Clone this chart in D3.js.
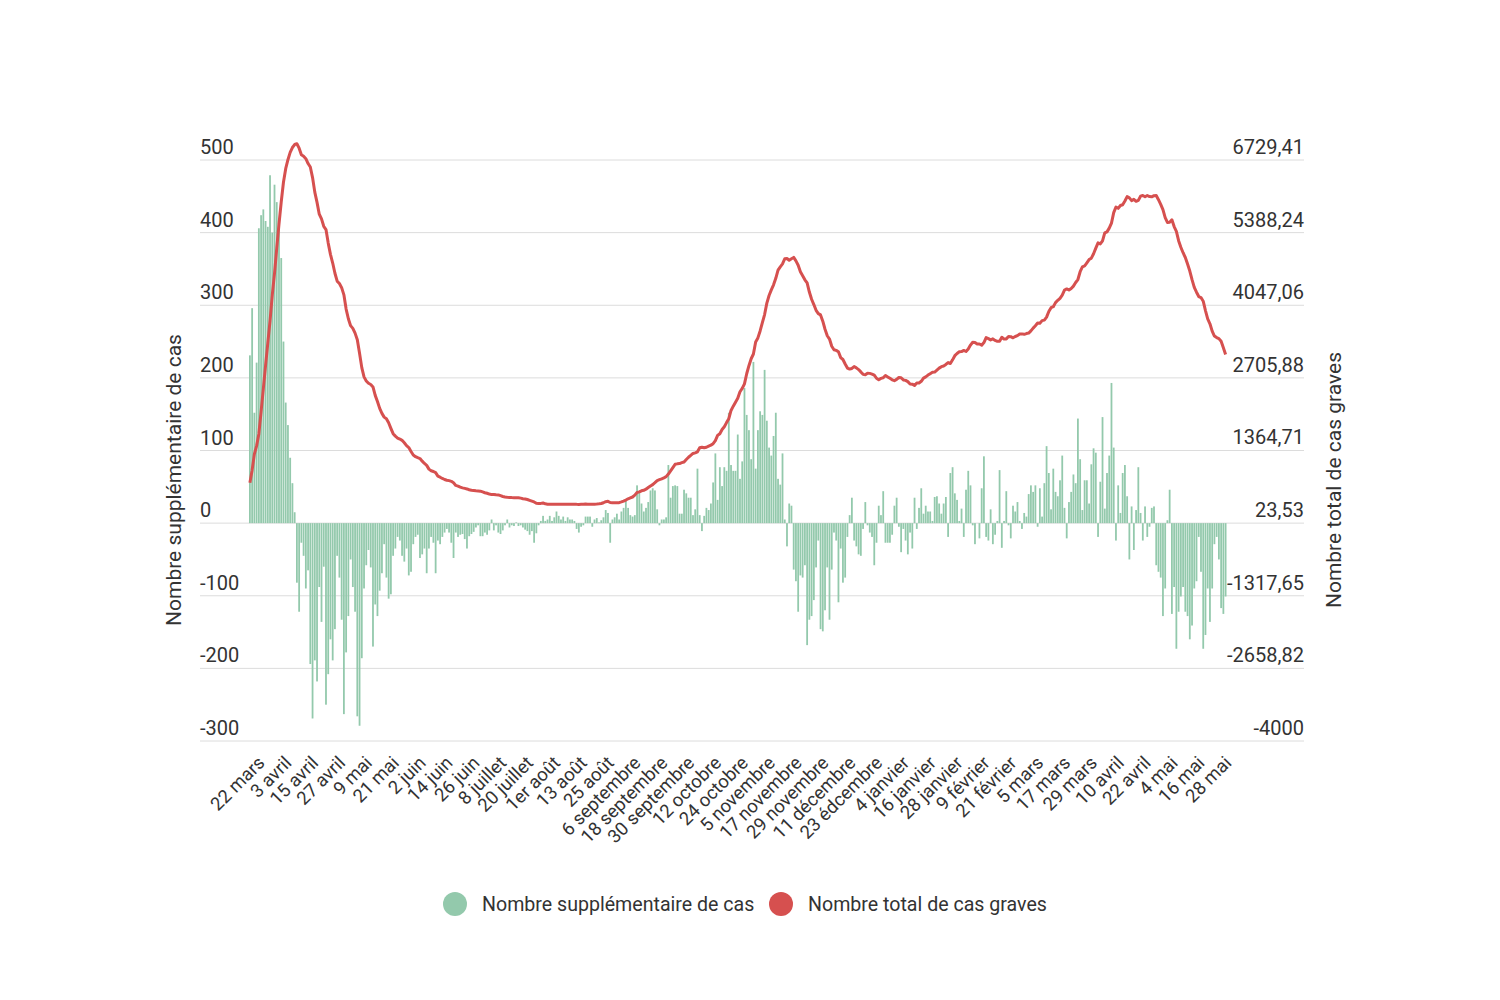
<!DOCTYPE html>
<html><head><meta charset="utf-8">
<script src="https://cdn.jsdelivr.net/npm/d3@7"></script>
<style>body{margin:0;background:#fff;} svg text{font-family:Roboto,"Noto Sans",sans-serif;}</style>
</head><body>
<svg id="chart" width="1500" height="1000"></svg>
<script>
// ---- DATA ----
const startDate = new Date(2020, 2, 18); // first day of the series
const dailyChange = [
231,296,152,221,406,424,432,416,408,479,400,466,442,410,365,250,166,135,90,55,15,
-82,-122,-27,-45,-90,-65,-194,-269,-189,-218,-88,-136,-60,-250,-208,-160,-189,-146,-45,-75,-133,-263,-178,-128,-50,-88,-122,
-266,-279,-186,-90,-58,-37,-61,-170,-112,-128,-93,-69,-29,-75,-104,-98,-45,-35,-19,-24,-45,-53,-35,-72,-67,-29,-19,-16,-48,-43,-35,-69,-35,-19,-27,-69,-24,-29,-19,-13,-8,-13,-27,-48,-13,-19,
-16,-15,-22,-35,-18,-15,-12,-6,-3,-18,-18,-13,-16,-10,5,-10,-3,-13,-15,-10,-3,5,-6,-3,-4,1,-4,-3,-6,-9,-11,-16,-11,-27,-14,-3,3,10,3,5,10,3,8,16,10,5,9,3,8,5,
5,3,-8,-13,-5,-3,9,9,9,-5,5,7,1,4,8,18,14,-27,5,8,13,5,16,21,32,21,11,9,11,52,43,27,16,21,29,45,48,45,19,-3,5,5,8,80,35,51,52,51,13,
13,46,41,35,35,11,19,75,11,-11,10,21,18,27,56,96,32,77,51,77,72,152,80,72,72,122,61,85,186,149,128,88,222,75,128,154,149,211,141,104,93,120,152,61,53,96,5,-32,27,24,-64,
-80,-122,-72,-75,-58,-168,-133,-128,-106,-61,-24,-146,-149,-120,-61,-133,-64,-13,-24,-109,-35,-82,-75,-19,11,35,-24,-32,-43,-45,-8,29,-3,-13,-19,-58,-27,24,11,44,-27,-27,-27,-16,24,35,-5,-40,
-8,-24,-43,-13,-35,35,-8,21,48,13,24,16,16,3,36,37,27,13,27,36,-19,69,77,41,32,3,20,-19,46,72,52,-3,-29,0,-21,48,92,-19,-24,19,-29,-16,3,73,-34,3,44,-3,-21,24,16,29,
3,-8,14,9,40,52,43,52,-5,48,9,55,106,69,19,75,43,37,59,93,21,-21,29,43,67,55,144,88,18,59,59,27,81,103,97,-19,57,146,20,69,93,193,104,-24,52,14,69,80,37,
-50,23,-37,18,77,14,-24,23,-19,-5,21,23,-58,-67,-75,-128,-90,4,46,-125,-88,-173,-122,-101,-88,-122,-128,-160,-141,-90,-80,-19,-67,-173,-154,-90,-136,-90,-29,-19,-50,-117,-125,-101
];
const severeTotal = [
771,1002,1298,1450,1671,2077,2501,2933,3349,3757,4236,4636,5102,5544,5954,6319,6569,6735,6870,6960,7015,7030,6948,6826,6799,6754,6664,6599,6405,6136,5947,5729,5641,5505,5445,5195,4987,4827,4638,4492,4447,4372,4239,3976,3798,3670,3620,3532,3410,
3159,2895,2724,2649,2606,2584,2538,2383,2271,2143,2050,1981,1952,1877,1773,1675,1630,1595,1576,1552,1507,1454,1419,1347,1280,1251,1232,1216,1168,1125,1090,1021,991,977,955,891,872,848,829,816,808,795,768,720,707,688,
675,665,655,640,630,625,620,617,614,600,585,575,560,550,552,547,545,530,515,506,500,498,495,493,493,493,485,475,470,460,445,430,415,390,386,388,395,380,372,372,370,372,374,372,372,370,372,373,372,372,373,370,368,370,372,375,374,372,374,374,376,380,386,400,420,426,405,399,399,400,402,415,430,450,473,490,506,540,590,600,620,630,650,681,710,734,770,808,825,841,860,882,930,989,1050,1110,1118,1123,1140,
1153,1199,1240,1275,1310,1321,1340,1415,1426,1415,1425,1446,1464,1491,1547,1643,1675,1752,1803,1880,1952,2104,2184,2256,2328,2450,2511,2596,2782,2931,3059,3147,3369,3444,3572,3726,3875,4086,4227,4331,4424,4544,4696,4757,4810,4906,4911,4879,4906,4930,4866,
4786,4664,4592,4517,4459,4291,4158,4060,3954,3893,3869,3753,3604,3484,3423,3290,3226,3213,3189,3080,3045,2963,2888,2869,2880,2915,2891,2859,2816,2771,2763,2792,2789,2776,2757,2699,2672,2696,2707,2751,2724,2697,2670,2654,2678,2713,2708,2668,
2660,2636,2593,2590,2565,2610,2612,2643,2701,2724,2758,2784,2810,2813,2849,2886,2913,2926,2953,2989,2970,3039,3116,3157,3189,3192,3212,3193,3239,3311,3363,3360,3331,3331,3310,3358,3450,3431,3407,3426,3397,3381,3384,3457,3423,3426,3470,3467,3446,3470,3486,3515,
3518,3510,3524,3533,3573,3625,3668,3720,3715,3763,3772,3827,3933,4002,4021,4096,4139,4176,4235,4328,4349,4328,4357,4400,4467,4522,4666,4754,4772,4831,4890,4917,4998,5101,5198,5179,5236,5382,5402,5471,5564,5757,5861,5837,5889,5903,5972,6052,
6030,5980,6003,5966,5984,6061,6075,6051,6074,6055,6050,6071,6074,5996,5909,5814,5666,5576,5580,5626,5501,5413,5240,5118,5017,4929,4807,4679,4519,4378,4288,4208,4189,4122,3949,3795,3705,3569,3479,3450,3431,3381,3264,3139
];
const tickLabels = ["22 mars","3 avril","15 avril","27 avril","9 mai","21 mai","2 juin","14 juin","26 juin","8 juillet","20 juillet","1er août","13 août","25 août","6 septembre","18 septembre","30 septembre","12 octobre","24 octobre","5 novembre","17 novembre","29 novembre","11 décembre","23 édcembre","4 janvier","16 janvier","28 janvier","9 février","21 février","5 mars","17 mars","29 mars","10 avril","22 avril","4 mai","16 mai","28 mai"];
const tickFirstIndex = 4, tickEvery = 12;
const leftTicks = [-300,-200,-100,0,100,200,300,400,500];
const rightTicks = [-4000,-2658.82,-1317.65,23.53,1364.71,2705.88,4047.06,5388.24,6729.41];
const rightTickLabels = ["-4000","-2658,82","-1317,65","23,53","1364,71","2705,88","4047,06","5388,24","6729,41"];
const leftTitle = "Nombre supplémentaire de cas";
const rightTitle = "Nombre total de cas graves";

// ---- CHART ----
const svg = d3.select("#chart");
const n = dailyChange.length;
const days = d3.range(n).map(i => d3.timeDay.offset(startDate, i));
const x = d3.scaleBand().domain(d3.range(n)).range([249, 1226.5]).paddingInner(0.2);
const yL = d3.scaleLinear().domain([-300, 500]).range([741, 160]);
const yR = d3.scaleLinear().domain([-4000, 6729.41]).range([741, 160]);
const green = "#93c9ac", red = "#d6504f", txt = "#333333";

// gridlines
svg.append("g").selectAll("line").data(leftTicks).join("line")
  .attr("x1", 200).attr("x2", 1304)
  .attr("y1", d => yL(d)).attr("y2", d => yL(d))
  .attr("stroke", "#dcdcdc").attr("stroke-width", 1);

// left labels
svg.append("g").selectAll("text").data(leftTicks).join("text")
  .attr("x", 200).attr("y", d => yL(d) - 6)
  .attr("font-size", 20).attr("fill", txt).text(d => String(d));

// right labels
svg.append("g").selectAll("text").data(rightTicks).join("text")
  .attr("x", 1304).attr("y", d => yR(d) - 6).attr("text-anchor", "end")
  .attr("font-size", 20).attr("fill", txt).text((d, i) => rightTickLabels[i]);

// bars
svg.append("g").selectAll("rect").data(dailyChange).join("rect")
  .attr("x", (d, i) => x(i)).attr("width", x.bandwidth())
  .attr("y", d => Math.min(yL(d), yL(0)))
  .attr("height", d => Math.abs(yL(d) - yL(0)))
  .attr("fill", green);

// line
const line = d3.line().x((d, i) => x(i) + x.bandwidth() / 2).y(d => yR(d)).curve(d3.curveLinear);
svg.append("path").datum(severeTotal).attr("d", line)
  .attr("fill", "none").attr("stroke", red).attr("stroke-width", 3).attr("stroke-linejoin", "round");

// x labels
const tickIdx = tickLabels.map((_, k) => tickFirstIndex + k * tickEvery);
svg.append("g").selectAll("text").data(tickIdx).join("text")
  .attr("transform", d => `translate(${x(d) + x.bandwidth() / 2 + 7},764) rotate(-45)`)
  .attr("text-anchor", "end").attr("font-size", 18.5).attr("fill", txt)
  .text((d, k) => tickLabels[k]);

// axis titles
svg.append("text").attr("transform", "translate(181,480) rotate(-90)")
  .attr("text-anchor", "middle").attr("font-size", 21).attr("fill", txt).text(leftTitle);
svg.append("text").attr("transform", "translate(1341,480) rotate(-90)")
  .attr("text-anchor", "middle").attr("font-size", 21).attr("fill", txt).text(rightTitle);

// legend
const legend = [{label: leftTitle, color: green, cx: 455}, {label: rightTitle, color: red, cx: 781}];
const lg = svg.append("g");
lg.selectAll("circle").data(legend).join("circle")
  .attr("cx", d => d.cx).attr("cy", 904).attr("r", 12).attr("fill", d => d.color);
lg.selectAll("text").data(legend).join("text")
  .attr("x", d => d.cx + 27).attr("y", 911).attr("font-size", 19.6).attr("fill", txt).text(d => d.label);
</script>
</body></html>
